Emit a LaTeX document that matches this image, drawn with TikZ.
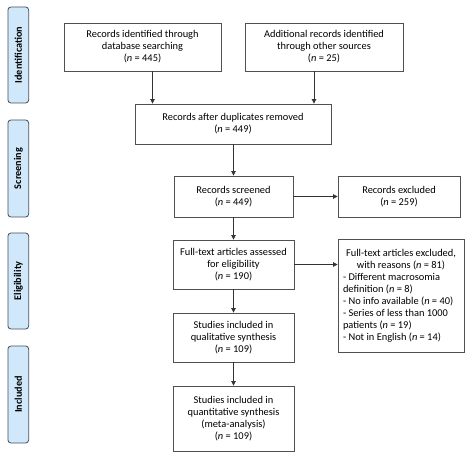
\documentclass[tikz,border=0pt]{standalone}
\usepackage{fontspec}
\setmainfont{Carlito}
\usetikzlibrary{arrows.meta,calc}
\definecolor{sidefill}{RGB}{208,232,250}
\definecolor{sideline}{RGB}{70,80,95}
\definecolor{boxline}{RGB}{80,80,80}
\tikzset{
  flowbox/.style={draw=boxline,line width=0.8pt,inner sep=0pt,align=center,font=\fontsize{10.4}{12}\selectfont},
  sidelabel/.style={draw=sideline,fill=sidefill,line width=0.8pt,rounded corners=3pt,rotate=90,inner sep=0pt,minimum height=20.7pt,font=\fontsize{10.2}{11}\selectfont\bfseries},
  arr/.style={draw=black!80,line width=0.7pt,-{Triangle[length=4.5pt,width=4.5pt]}}
}
\newcommand{\nn}{\textit{n}}
\begin{document}
\begin{tikzpicture}[x=1pt,y=-1pt]
\useasboundingbox (0,0) rectangle (474,465);
\fill[white] (0,0) rectangle (474,465);
% side labels
\node[sidelabel,minimum width=96pt] (sid) at (18.3,55) {Identification};
\node[sidelabel,minimum width=97pt] (ssc) at (18.3,168.5) {Screening};
\node[sidelabel,minimum width=96pt] (sel) at (18.3,281) {Eligibility};
\node[sidelabel,minimum width=97pt] (sin) at (18.3,394.5) {Included};
% boxes
\node[flowbox,minimum width=157pt,minimum height=48pt] (b1) at (142.5,47) {Records identified through\\database searching\\(\nn{} = 445)};
\node[flowbox,minimum width=158pt,minimum height=48pt] (b2) at (324,47) {Additional records identified\\through other sources\\(\nn{} = 25)};
\node[flowbox,minimum width=196pt,minimum height=40pt] (b3) at (233,124) {Records after duplicates removed\\(\nn{} = 449)};
\node[flowbox,minimum width=119pt,minimum height=41pt] (b4) at (233.5,196.5) {Records screened\\(\nn{} = 449)};
\node[flowbox,minimum width=122pt,minimum height=41pt] (b5) at (399,196.5) {Records excluded\\(\nn{} = 259)};
\node[flowbox,minimum width=121pt,minimum height=49pt] (b6) at (233.5,264.5) {Full-text articles assessed\\for eligibility\\(\nn{} = 190)};
\node[flowbox,minimum width=126pt,minimum height=113pt,align=left] (b7) at (401,295.5) {\parbox{116pt}{\centering Full-text articles excluded,\\with reasons (\nn{} = 81)\par\raggedright
- Different macrosomia\\definition (\nn{} = 8)\\- No info available (\nn{} = 40)\\- Series of less than 1000\\patients (\nn{} = 19)\\- Not in English (\nn{} = 14)}};
\node[flowbox,minimum width=121pt,minimum height=49pt] (b8) at (233.5,337.5) {Studies included in\\qualitative synthesis\\(\nn{} = 109)};
\node[flowbox,minimum width=121pt,minimum height=65pt] (b9) at (233.5,418.5) {Studies included in\\quantitative synthesis\\(meta-analysis)\\(\nn{} = 109)};
% arrows
\draw[arr] ([xshift=10pt]b1.south) -- ([xshift=10pt]b1.south |- b3.north);
\draw[arr] ([xshift=-10pt]b2.south) -- ([xshift=-10pt]b2.south |- b3.north);
\draw[arr] (b3.south -| b4.north) -- (b4.north);
\draw[arr] (b4.east) -- (b4.east -| b5.west);
\draw[arr] (b4) -- (b6);
\draw[arr] (b6.east) -- (b6.east -| b7.west);
\draw[arr] (b6) -- (b8);
\draw[arr] (b8) -- (b9);
\end{tikzpicture}
\end{document}
